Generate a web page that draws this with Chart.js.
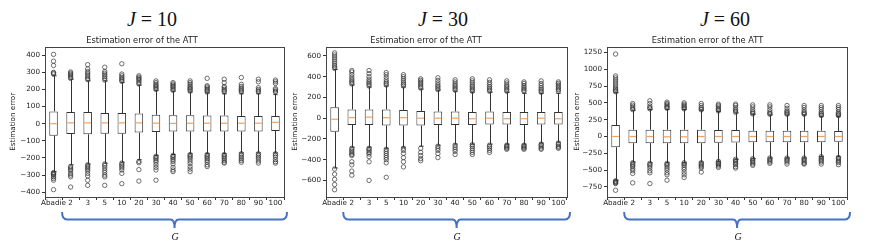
<!DOCTYPE html>
<html>
<head>
<meta charset="utf-8">
<script src="https://cdn.jsdelivr.net/npm/chart.js@4"></script>
<style>
  body { margin: 0; background: #fff; width: 872px; height: 250px; position: relative; overflow: hidden; }
  canvas { position: absolute; top: 0; }
  .jt { position: absolute; top: 9px; font-family: "Liberation Serif", "DejaVu Serif", serif; font-size: 20px; line-height: 20px; transform: translateX(-50%); white-space: nowrap; color: #111; }
  .g { position: absolute; top: 231px; font-family: "Liberation Serif", serif; font-style: italic; font-size: 10px; transform: translateX(-50%); color: #111; }
</style>
</head>
<body>
<div class="jt" style="left:152px"><i>J</i> = 10</div>
<div class="jt" style="left:443px"><i>J</i> = 30</div>
<div class="jt" style="left:725px"><i>J</i> = 60</div>
<canvas id="c10" width="290" height="250" style="left:0px"></canvas>
<canvas id="c30" width="290" height="250" style="left:285px"></canvas>
<canvas id="c60" width="304" height="250" style="left:568px"></canvas>
<div class="g" style="left:175px">G</div>
<div class="g" style="left:457px">G</div>
<div class="g" style="left:738px">G</div>
<script>
const categories = ['Abadie', '2', '3', '5', '10', '20', '30', '40', '50', '60', '70', '80', '90', '100'];

// J = 10
const yTicksJ10 = [-400, -300, -200, -100, 0, 100, 200, 300, 400];
const q1J10  = [-70, -60, -62, -58, -58, -52, -48, -45, -45, -45, -45, -45, -45, -42];
const medJ10 = [0, 5, 5, 5, 5, 5, 3, 2, 3, 3, 3, 3, 3, 8];
const q3J10  = [72, 68, 68, 62, 62, 60, 52, 50, 50, 48, 48, 45, 45, 45];
const loJ10  = [-280, -240, -235, -230, -225, -210, -185, -180, -175, -175, -175, -170, -170, -170];
const hiJ10  = [280, 260, 250, 250, 240, 225, 195, 190, 185, 180, 175, 175, 175, 170];
const outHiJ10 = [
  [290, 295, 300, 340, 365, 405],
  [265, 272, 280, 288, 295, 302],
  [258, 265, 275, 285, 295, 305, 320, 345],
  [255, 265, 275, 285, 295, 305, 330],
  [248, 255, 262, 270, 280, 290, 350],
  [232, 240, 250, 258, 265, 272, 280],
  [200, 208, 215, 222, 230, 240, 250],
  [195, 202, 210, 218, 225, 232, 240],
  [190, 198, 205, 212, 220, 230, 240, 250],
  [185, 192, 200, 208, 215, 222, 265],
  [185, 192, 200, 210, 218, 240, 260],
  [185, 192, 200, 208, 218, 230, 270],
  [185, 192, 200, 210, 245, 260],
  [185, 190, 198, 205, 235, 245, 255]
];
const outLoJ10 = [
  [-285, -290, -295, -300, -310, -320, -330, -385],
  [-250, -258, -266, -275, -290, -300, -310, -370],
  [-240, -248, -256, -265, -275, -290, -305, -330, -360],
  [-235, -245, -258, -272, -285, -300, -310, -360],
  [-230, -240, -248, -258, -270, -290, -350],
  [-220, -228, -268, -335],
  [-190, -198, -205, -215, -225, -240, -255, -270, -330],
  [-185, -192, -200, -210, -220, -235, -255, -270, -280],
  [-180, -188, -195, -205, -218, -232, -250, -265, -280],
  [-180, -188, -196, -205, -215, -225, -240, -250],
  [-180, -188, -196, -205, -215, -225, -230],
  [-175, -185, -195, -205, -215, -225],
  [-175, -185, -195, -205, -218, -230],
  [-175, -185, -195, -210, -222, -230]
];

// J = 30
const yTicksJ30 = [-600, -400, -200, 0, 200, 400, 600];
const q1J30  = [-130, -65, -65, -70, -70, -70, -65, -65, -65, -60, -60, -65, -60, -60];
const medJ30 = [-10, 5, 10, 5, 5, 0, 0, 0, -5, 0, -5, -5, 0, -5];
const q3J30  = [105, 85, 85, 85, 80, 70, 65, 65, 60, 65, 60, 60, 60, 60];
const loJ30  = [-480, -280, -280, -290, -280, -270, -260, -250, -250, -250, -250, -250, -240, -230];
const hiJ30  = [470, 320, 300, 310, 300, 280, 270, 260, 250, 250, 250, 240, 240, 240];
const outHiJ30 = [
  [480, 495, 510, 530, 550, 570, 590, 610, 630],
  [330, 345, 360, 375, 395, 420, 445, 460],
  [310, 325, 340, 355, 375, 400, 430, 460],
  [320, 335, 350, 370, 395, 420, 440],
  [310, 325, 340, 360, 380, 400, 420],
  [290, 305, 320, 335, 350, 365, 380],
  [275, 290, 305, 320, 340, 365, 390],
  [270, 285, 300, 315, 330, 350, 370],
  [260, 275, 290, 305, 320, 340, 360, 380],
  [260, 275, 290, 305, 325, 345, 370],
  [260, 275, 290, 305, 320, 340, 360],
  [260, 270, 285, 300, 315, 335, 350],
  [250, 265, 280, 295, 315, 335, 360],
  [260, 275, 290, 305, 320, 335, 350]
];
const outLoJ30 = [
  [-490, -540, -590, -640, -690],
  [-290, -305, -320, -335, -350, -360, -420, -450, -510, -550],
  [-290, -300, -315, -330, -345, -370, -420, -600],
  [-300, -320, -340, -360, -380, -400, -430, -570],
  [-290, -310, -340, -380, -420, -470],
  [-290, -330, -360, -390, -410],
  [-270, -290, -310, -340, -380],
  [-260, -280, -300, -320, -350],
  [-255, -270, -290, -310, -330, -350],
  [-260, -275, -290, -310, -330],
  [-260, -270, -280, -290, -300],
  [-260, -270, -280, -290, -300],
  [-250, -260, -275, -290, -300],
  [-240, -255, -270, -280, -290]
];

// J = 60
const yTicksJ60 = [-750, -500, -250, 0, 250, 500, 750, 1000, 1250];
const q1J60  = [-160, -100, -100, -100, -100, -100, -95, -90, -85, -85, -85, -85, -85, -80];
const medJ60 = [0, 0, 0, -5, -5, 0, 0, 0, 0, 0, 0, 0, 0, 0];
const q3J60  = [170, 100, 100, 100, 100, 100, 95, 95, 85, 85, 85, 85, 85, 80];
const loJ60  = [-650, -380, -390, -390, -390, -380, -370, -340, -330, -320, -320, -320, -300, -300];
const hiJ60  = [650, 390, 400, 400, 400, 390, 370, 350, 330, 320, 320, 320, 300, 300];
const outHiJ60 = [
  [665, 680, 700, 720, 750, 780, 810, 840, 870, 900, 1225],
  [400, 415, 440, 465, 490],
  [410, 425, 450, 490, 530],
  [420, 435, 450, 470, 490, 510],
  [410, 425, 440, 460, 480, 500],
  [395, 410, 430, 460, 490],
  [380, 395, 415, 440, 460, 480],
  [360, 380, 400, 430, 460, 480],
  [335, 350, 370, 400, 440, 470],
  [330, 345, 365, 400, 440, 470],
  [330, 345, 365, 380, 420, 460],
  [330, 345, 360, 390, 430, 460],
  [310, 325, 345, 365, 400, 430, 460],
  [310, 325, 340, 360, 400, 430, 460]
];
const outLoJ60 = [
  [-660, -670, -680, -690, -700, -800],
  [-390, -410, -430, -450, -480, -510, -550, -690],
  [-400, -420, -440, -470, -510, -540, -700],
  [-400, -420, -440, -470, -500, -540, -570, -650],
  [-390, -410, -430, -460, -490, -530, -570, -610],
  [-390, -410, -430, -450, -470, -530],
  [-370, -390, -405, -420, -440, -460],
  [-340, -360, -380, -400, -420, -450, -470],
  [-330, -350, -370, -390, -410, -430],
  [-320, -340, -360, -380, -400],
  [-320, -340, -360, -380, -410],
  [-320, -340, -360, -380, -400, -410],
  [-300, -320, -340, -360, -380, -410],
  [-310, -330, -350, -370, -390, -420]
];

const INK = '#333';
const tickFont = { family: 'DejaVu Sans', size: 7.2 };

// whiskers, caps, medians, frame and the blue brace under the G groups
const boxExtras = {
  id: 'boxExtras',
  beforeDatasetsDraw(chart) {
    const ds = chart.data.datasets[0];
    const meta = chart.getDatasetMeta(0);
    const y = chart.scales.y;
    const ctx = chart.ctx;
    ctx.save();
    ctx.strokeStyle = INK;
    ctx.lineWidth = 1;
    meta.data.forEach((bar, i) => {
      const x = Math.round(bar.x) + 0.5;
      const cap = bar.width / 4;
      const yq1 = y.getPixelForValue(ds.data[i][0]);
      const yq3 = y.getPixelForValue(ds.data[i][1]);
      const ylo = y.getPixelForValue(ds.whiskerLo[i]);
      const yhi = y.getPixelForValue(ds.whiskerHi[i]);
      ctx.beginPath();
      ctx.moveTo(x, yq3); ctx.lineTo(x, yhi);
      ctx.moveTo(x, yq1); ctx.lineTo(x, ylo);
      ctx.moveTo(x - cap, yhi); ctx.lineTo(x + cap, yhi);
      ctx.moveTo(x - cap, ylo); ctx.lineTo(x + cap, ylo);
      ctx.stroke();
    });
    ctx.restore();
  },
  afterDatasetsDraw(chart) {
    const ds = chart.data.datasets[0];
    const meta = chart.getDatasetMeta(0);
    const y = chart.scales.y;
    const ctx = chart.ctx;
    ctx.save();
    ctx.strokeStyle = '#f7a05a';
    ctx.lineWidth = 1.2;
    meta.data.forEach((bar, i) => {
      const ym = y.getPixelForValue(ds.median[i]);
      ctx.beginPath();
      ctx.moveTo(bar.x - bar.width / 2 + 1, ym);
      ctx.lineTo(bar.x + bar.width / 2 - 1, ym);
      ctx.stroke();
    });
    ctx.restore();
  },
  afterDraw(chart) {
    const ctx = chart.ctx;
    const a = chart.chartArea;
    ctx.save();
    ctx.strokeStyle = '#444';
    ctx.lineWidth = 1;
    ctx.strokeRect(Math.round(a.left) + 0.5, Math.round(a.top) + 0.5, Math.round(a.right - a.left), Math.round(a.bottom - a.top));

    // brace spanning the G categories (2 .. 100)
    const xs = chart.scales.x;
    const step = xs.getPixelForValue(2) - xs.getPixelForValue(1);
    const x1 = xs.getPixelForValue(1) - step / 2;
    const x2 = a.right + 3;
    const xm = (x1 + x2) / 2;
    const yt = 212, yl = 219.5, yb = 228;
    ctx.strokeStyle = '#4472c4';
    ctx.lineWidth = 2;
    ctx.beginPath();
    ctx.moveTo(x1, yt);
    ctx.quadraticCurveTo(x1, yl, x1 + 5, yl);
    ctx.lineTo(xm - 4, yl);
    ctx.quadraticCurveTo(xm, yl, xm, yb);
    ctx.moveTo(xm, yb);
    ctx.quadraticCurveTo(xm, yl, xm + 4, yl);
    ctx.lineTo(x2 - 5, yl);
    ctx.quadraticCurveTo(x2, yl, x2, yt);
    ctx.stroke();
    ctx.restore();
  }
};

function minusFmt(v) {
  return v < 0 ? '\u2212' + Math.abs(v) : String(v);
}

function buildPanel(id, q1, med, q3, lo, hi, outHi, outLo, yTicks, yMin, yMax, axisWidth, titlePad, padRight) {
  const outliers = [];
  categories.forEach((c, i) => {
    outHi[i].forEach(v => outliers.push({ x: c, y: v }));
    outLo[i].forEach(v => outliers.push({ x: c, y: v }));
  });

  new Chart(document.getElementById(id), {
    data: {
      labels: categories,
      datasets: [{
        type: 'bar',
        data: q1.map((v, i) => [v, q3[i]]),
        median: med,
        whiskerLo: lo,
        whiskerHi: hi,
        backgroundColor: '#fff',
        borderColor: INK,
        borderWidth: 1,
        borderSkipped: false,
        barPercentage: 0.5,
        categoryPercentage: 1
      }, {
        type: 'line',
        data: outliers,
        showLine: false,
        pointRadius: 2.2,
        pointHoverRadius: 2.2,
        pointBorderWidth: 0.7,
        pointBorderColor: INK,
        pointBackgroundColor: 'rgba(0,0,0,0)'
      }]
    },
    options: {
      responsive: false,
      animation: false,
      devicePixelRatio: 1,
      layout: { padding: { top: 35.7, right: padRight, bottom: 0, left: 0 } },
      plugins: {
        legend: { display: false },
        tooltip: { enabled: false },
        title: {
          display: true,
          text: 'Estimation error of the ATT',
          color: '#222',
          font: { family: 'DejaVu Sans', size: 8.3, weight: 'normal' },
          padding: { top: 0, bottom: 1 }
        }
      },
      scales: {
        x: {
          type: 'category',
          offset: true,
          grid: { drawOnChartArea: false, drawTicks: true, tickLength: 3, color: INK },
          border: { display: false },
          ticks: { color: '#222', font: tickFont, padding: -1, maxRotation: 0, autoSkip: false },
          afterFit: s => { s.height = 53; }
        },
        y: {
          min: yMin,
          max: yMax,
          grid: { drawOnChartArea: false, drawTicks: true, tickLength: 3, color: INK },
          border: { display: false },
          ticks: { color: '#222', font: tickFont, padding: 2, callback: v => minusFmt(v) },
          afterBuildTicks: s => { s.ticks = yTicks.map(v => ({ value: v })); },
          afterFit: s => { s.width = axisWidth; },
          title: {
            display: true,
            text: 'Estimation error',
            color: '#222',
            font: { family: 'DejaVu Sans', size: 7.2 },
            padding: { top: titlePad, bottom: 0 }
          }
        }
      }
    },
    plugins: [boxExtras]
  });
}

buildPanel('c10', q1J10, medJ10, q3J10, loJ10, hiJ10, outHiJ10, outLoJ10, yTicksJ10, -428, 450, 45, 8.7, 6);
buildPanel('c30', q1J30, medJ30, q3J30, loJ30, hiJ30, outHiJ30, outLoJ30, yTicksJ30, -760, 690, 41, 5.7, 8);
buildPanel('c60', q1J60, medJ60, q3J60, loJ60, hiJ60, outHiJ60, outLoJ60, yTicksJ60, -900, 1335, 39, 4.7, 25);
</script>
</body>
</html>
